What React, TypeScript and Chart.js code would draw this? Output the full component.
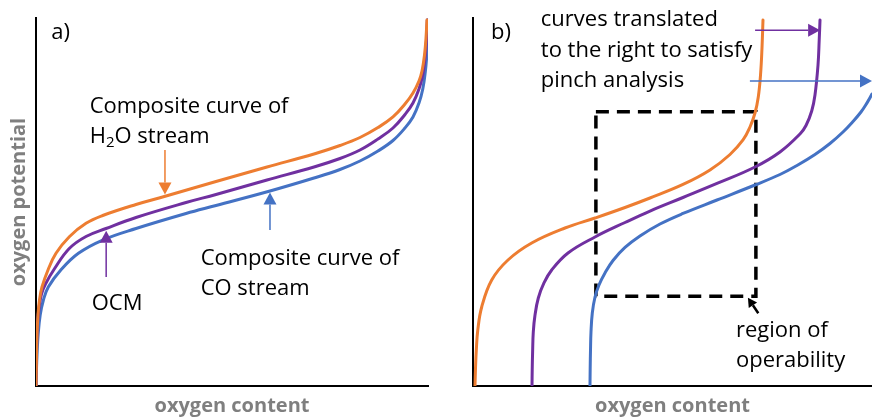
import React, { useEffect, useRef } from 'react';
import { Chart, registerables } from 'chart.js';

Chart.register(...registerables);

const ORANGE = '#ED7D31';
const PURPLE = '#7030A0';
const BLUE = '#4472C4';
const AXIS_GREY = '#7F7F7F';
const FONT = '"Open Sans", "Noto Sans", sans-serif';

// ---------------- panel a) : composite curves (oxygen content 0..100, oxygen potential 0..100)
const aH2OX = [0, 0.13, 0.26, 0.51, 0.89, 1.53, 3.06, 5.1, 8.5, 12.76, 17.02, 25.51, 32.73, 45.92, 58.93, 70.92, 77.55, 82.65, 87.24, 91.07, 94.13, 96.17, 97.7, 98.47, 99.11, 99.49, 99.74];
const aH2OY = [0, 8.42, 13.86, 19.29, 23.37, 26.9, 31.52, 36.06, 40.57, 44.21, 46.33, 49.32, 51.49, 55.57, 59.51, 63.04, 65.35, 67.53, 70.24, 73.1, 76.63, 79.62, 82.88, 85.6, 89.95, 94.57, 99.46];

const aOCMX = [0, 0.1, 0.2, 0.41, 0.77, 1.4, 2.42, 4.67, 8.49, 12.76, 17.86, 25.51, 38.27, 45.92, 58.93, 70.92, 77.55, 82.65, 87.24, 91.07, 94.13, 96.17, 97.7, 98.6, 99.23, 99.62, 99.82];
const aOCMY = [0, 7.07, 13.04, 17.39, 21.2, 25.0, 27.72, 31.79, 37.36, 40.62, 42.8, 45.79, 49.86, 52.04, 55.98, 59.51, 61.82, 64.13, 67.12, 70.11, 73.78, 76.9, 80.71, 84.24, 89.13, 94.02, 99.46];

const aCOX = [0, 0.13, 0.26, 0.54, 1.07, 1.89, 3.14, 6.33, 10.82, 17.02, 25.51, 38.27, 45.92, 59.69, 70.92, 77.55, 82.65, 87.24, 91.07, 94.13, 96.17, 97.7, 98.67, 99.31, 99.69, 99.87, 99.97];
const aCOY = [0, 4.89, 8.42, 13.86, 19.29, 23.37, 26.9, 31.52, 36.06, 39.67, 42.8, 46.88, 49.05, 52.99, 56.52, 58.83, 61.14, 63.86, 66.71, 70.11, 73.1, 76.9, 80.71, 85.33, 89.95, 94.57, 99.46];

// ---------------- panel b) : curves translated to the right
const bH2OX = [0.5, 0.63, 0.83, 1.2, 2.18, 4.69, 8.77, 14.71, 23.06, 30.58, 38.1, 44.36, 52.63, 59.4, 64.41, 67.67, 69.42, 70.68, 71.5, 72.06, 72.43, 72.68];
const bH2OY = [0, 4.89, 9.78, 15.22, 21.47, 28.8, 34.24, 38.86, 42.93, 45.65, 48.51, 51.09, 54.76, 58.7, 62.91, 66.85, 70.38, 74.18, 78.53, 84.51, 91.85, 99.46];

const bOCMX = [14.79, 14.84, 14.94, 15.11, 15.54, 16.37, 17.79, 19.72, 23.81, 30.58, 38.1, 44.36, 52.63, 61.15, 70.68, 76.94, 81.95, 83.46, 84.89, 85.71, 86.47, 86.77, 86.97];
const bOCMY = [0, 4.35, 9.24, 14.67, 19.29, 23.91, 28.0, 31.52, 36.14, 40.49, 44.43, 47.55, 51.22, 55.03, 59.51, 63.59, 68.48, 70.79, 74.73, 79.08, 87.23, 94.02, 99.46];

const bCOX = [29.32, 29.37, 29.45, 29.57, 29.9, 30.58, 31.58, 33.08, 35.09, 38.1, 41.85, 46.87, 52.63, 61.15, 70.68, 76.94, 81.2, 85.71, 89.47, 92.73, 95.24, 97.24, 98.5, 100.0, 101.5, 102.76, 103.76, 104.51];
const bCOY = [0, 4.89, 9.78, 14.67, 19.84, 24.18, 27.45, 30.71, 34.1, 37.64, 40.76, 44.02, 46.88, 50.54, 54.62, 57.47, 59.92, 62.91, 65.9, 69.02, 71.88, 74.46, 76.49, 79.35, 83.15, 88.04, 94.02, 99.46];

// region of operability (dashed box corners)
const bRegionX = [30.8, 70.9, 70.9, 30.8, 30.8];
const bRegionY = [74.5, 74.5, 24.4, 24.4, 74.5];

type Part = { s: string; sub?: boolean };
type Label = { x: number; y: number; parts: Part[] };
type Arrow = { x1: number; y1: number; x2: number; y2: number; color: string; lw: number; hl: number; hw: number };

const aLabels: Label[] = [
  { x: 3.9, y: 94.3, parts: [{ s: 'a)' }] },
  { x: 13.7, y: 74.1, parts: [{ s: 'Composite curve of' }] },
  { x: 13.7, y: 65.95, parts: [{ s: 'H' }, { s: '2', sub: true }, { s: 'O stream' }] },
  { x: 14.2, y: 20.65, parts: [{ s: 'OCM' }] },
  { x: 42.0, y: 32.9, parts: [{ s: 'Composite curve of' }] },
  { x: 42.0, y: 24.7, parts: [{ s: 'CO stream' }] },
];

const aArrows: Arrow[] = [
  { x1: 32.9, y1: 64.13, x2: 32.9, y2: 52.04, color: ORANGE, lw: 1.5, hl: 12, hw: 13 },
  { x1: 17.9, y1: 29.6, x2: 17.9, y2: 42.2, color: PURPLE, lw: 1.5, hl: 12, hw: 13 },
  { x1: 59.69, y1: 42.4, x2: 59.69, y2: 52.58, color: BLUE, lw: 1.5, hl: 12, hw: 13 },
];

const bLabels: Label[] = [
  { x: 4.5, y: 94.3, parts: [{ s: 'b)' }] },
  { x: 17.0, y: 97.8, parts: [{ s: 'curves translated' }] },
  { x: 17.0, y: 89.5, parts: [{ s: 'to the right to satisfy' }] },
  { x: 17.0, y: 81.25, parts: [{ s: 'pinch analysis' }] },
  { x: 65.9, y: 13.4, parts: [{ s: 'region of' }] },
  { x: 65.9, y: 5.24, parts: [{ s: 'operability' }] },
];

const bArrows: Arrow[] = [
  { x1: 70.7, y1: 96.7, x2: 87.0, y2: 96.7, color: PURPLE, lw: 1.5, hl: 12, hw: 13 },
  { x1: 69.4, y1: 82.9, x2: 100, y2: 82.9, color: BLUE, lw: 1.5, hl: 12, hw: 13 },
  { x1: 71.5, y1: 19.75, x2: 68.9, y2: 23.96, color: '#000', lw: 2.5, hl: 9, hw: 10 },
];

function drawArrow(ctx: CanvasRenderingContext2D, x1: number, y1: number, x2: number, y2: number, a: Arrow) {
  const ang = Math.atan2(y2 - y1, x2 - x1);
  const bx = x2 - Math.cos(ang) * a.hl;
  const by = y2 - Math.sin(ang) * a.hl;
  ctx.strokeStyle = a.color;
  ctx.lineWidth = a.lw;
  ctx.beginPath();
  ctx.moveTo(x1, y1);
  ctx.lineTo(bx, by);
  ctx.stroke();
  ctx.fillStyle = a.color;
  ctx.beginPath();
  ctx.moveTo(x2, y2);
  ctx.lineTo(bx + (Math.sin(ang) * a.hw) / 2, by - (Math.cos(ang) * a.hw) / 2);
  ctx.lineTo(bx - (Math.sin(ang) * a.hw) / 2, by + (Math.cos(ang) * a.hw) / 2);
  ctx.closePath();
  ctx.fill();
}

function annotPlugin(labels: Label[], arrows: Arrow[]) {
  return {
    id: 'annot',
    afterDatasetsDraw(chart: any) {
      const { ctx } = chart;
      const xs = chart.scales.x;
      const ys = chart.scales.y;
      ctx.save();
      arrows.forEach((a) => {
        drawArrow(ctx, xs.getPixelForValue(a.x1), ys.getPixelForValue(a.y1), xs.getPixelForValue(a.x2), ys.getPixelForValue(a.y2), a);
      });
      ctx.fillStyle = '#000';
      ctx.textBaseline = 'alphabetic';
      ctx.textAlign = 'left';
      labels.forEach((l) => {
        let px = xs.getPixelForValue(l.x);
        const py = ys.getPixelForValue(l.y);
        l.parts.forEach((p) => {
          ctx.font = `${p.sub ? 15 : 22}px ${FONT}`;
          ctx.fillText(p.s, px, py + (p.sub ? 4 : 0));
          px += ctx.measureText(p.s).width;
        });
      });
      ctx.restore();
    },
  };
}

function curve(xs: number[], ys: number[], color: string) {
  return {
    data: xs.map((x, i) => ({ x, y: ys[i] })),
    borderColor: color,
    borderWidth: 3,
    pointRadius: 0,
    fill: false,
    tension: 0.4,
    borderCapStyle: 'round',
    borderJoinStyle: 'round',
  };
}

function makeOptions(yWidth: number, padRight: number, yTitle: string | null) {
  const titleFont = { family: FONT, size: 20, weight: 'bold' };
  return {
    responsive: false,
    animation: false,
    events: [],
    layout: { padding: { top: 18, right: padRight, left: 0, bottom: 0 } },
    plugins: { legend: { display: false }, tooltip: { enabled: false } },
    scales: {
      x: {
        type: 'linear',
        min: 0,
        max: 100,
        grid: { display: false },
        ticks: { display: false },
        border: { display: true, color: '#000', width: 2 },
        title: { display: true, text: 'oxygen content', color: AXIS_GREY, font: titleFont, padding: 0 },
        afterFit: (s: any) => {
          s.height = 32;
        },
      },
      y: {
        type: 'linear',
        min: 0,
        max: 100,
        grid: { display: false },
        ticks: { display: false },
        border: { display: true, color: '#000', width: 2 },
        title: {
          display: !!yTitle,
          text: yTitle || '',
          color: AXIS_GREY,
          font: titleFont,
          padding: { top: 7.5, bottom: 0 },
        },
        afterFit: (s: any) => {
          s.width = yWidth;
        },
      },
    },
  };
}

export default function App() {
  const refA = useRef<HTMLCanvasElement>(null);
  const refB = useRef<HTMLCanvasElement>(null);

  useEffect(() => {
    document.body.style.margin = '0';
    const chartA = new Chart(refA.current as HTMLCanvasElement, {
      type: 'line',
      data: {
        datasets: [curve(aH2OX, aH2OY, ORANGE), curve(aOCMX, aOCMY, PURPLE), curve(aCOX, aCOY, BLUE)] as any,
      },
      options: makeOptions(36, 12, 'oxygen potential') as any,
      plugins: [annotPlugin(aLabels, aArrows)],
    });
    const chartB = new Chart(refB.current as HTMLCanvasElement, {
      type: 'line',
      data: {
        datasets: [
          curve(bH2OX, bH2OY, ORANGE),
          curve(bOCMX, bOCMY, PURPLE),
          curve(bCOX, bCOY, BLUE),
          {
            data: bRegionX.map((x, i) => ({ x, y: bRegionY[i] })),
            borderColor: '#000',
            borderWidth: 3.5,
            borderDash: [13, 8],
            pointRadius: 0,
            fill: false,
            tension: 0,
          },
        ] as any,
      },
      options: makeOptions(33, 0, null) as any,
      plugins: [annotPlugin(bLabels, bArrows)],
    });
    return () => {
      chartA.destroy();
      chartB.destroy();
    };
  }, []);

  return (
    <div style={{ position: 'absolute', left: 0, top: 0, width: 872, height: 418, background: '#fff' }}>
      <canvas ref={refA} width={440} height={418} style={{ position: 'absolute', left: 0, top: 0 }} />
      <canvas ref={refB} width={432} height={418} style={{ position: 'absolute', left: 440, top: 0 }} />
    </div>
  );
}
